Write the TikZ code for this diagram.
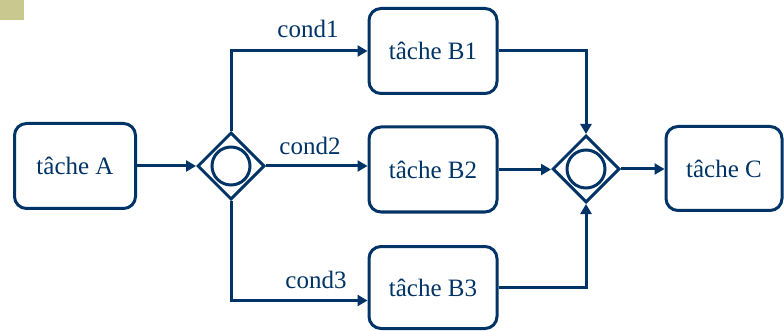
\documentclass[tikz,border=0pt]{standalone}
\usepackage{fontspec}
\setmainfont{Liberation Serif}
\usetikzlibrary{arrows.meta,shapes.geometric,calc}
\definecolor{navy}{RGB}{0,51,102}
\definecolor{olive}{RGB}{201,201,143}
\begin{document}
\begin{tikzpicture}[x=1pt,y=-1pt,
  task/.style={draw=navy,line width=3pt,rounded corners=12pt,inner sep=0pt,
    minimum width=128pt,minimum height=85pt,text=navy,
    font=\fontsize{25}{29}\selectfont},
  gate/.style={draw=navy,line width=3pt,diamond,aspect=1,inner sep=0pt,
    minimum width=67pt,minimum height=67pt,fill=white},
  ring/.style={draw=navy,line width=3pt,circle,inner sep=0pt,minimum size=38pt},
  flow/.style={draw=navy,line width=3pt,-{Triangle[length=10pt,width=11pt]}},
  lbl/.style={text=navy,font=\fontsize{25}{29}\selectfont,anchor=base,inner sep=0pt}]
\useasboundingbox (0,0) rectangle (784,331);
\fill[olive] (0,0) rectangle (24,20);
\node[task,minimum width=121pt] (A) at (75,166) {tâche A};
\node[task] (B1) at (433,51) {tâche B1};
\node[task] (B2) at (433,169.5) {tâche B2};
\node[task,minimum height=82pt] (B3) at (433,287.5) {tâche B3};
\node[task,minimum width=116pt,minimum height=84pt] (C) at (724,168.5) {tâche C};
\node[gate] (G1) at (231,166) {};
\node[ring] (R1) at (G1.center) {};
\node[gate] (G2) at (586,169) {};
\node[ring] (R2) at (G2.center) {};
\node[lbl] (c1) at (308,38) {cond1};
\node[lbl] (c2) at (310,155) {cond2};
\node[lbl] (c3) at (316,288) {cond3};
\draw[flow] (A.east) -- (A.east -| G1.west);
\draw[flow] (G1.north) |- (B1.west);
\draw[flow] (G1.east) -- (G1.east -| B2.west);
\draw[flow] (G1.south) |- ($(B3.west)+(0,13)$);
\draw[flow] (B1.east) -| (G2.north);
\draw[flow] (B2.east) -- (B2.east -| G2.west);
\draw[flow] (B3.east) -| (G2.south);
\draw[flow] (G2.east) -- (G2.east -| C.west);
\end{tikzpicture}
\end{document}
